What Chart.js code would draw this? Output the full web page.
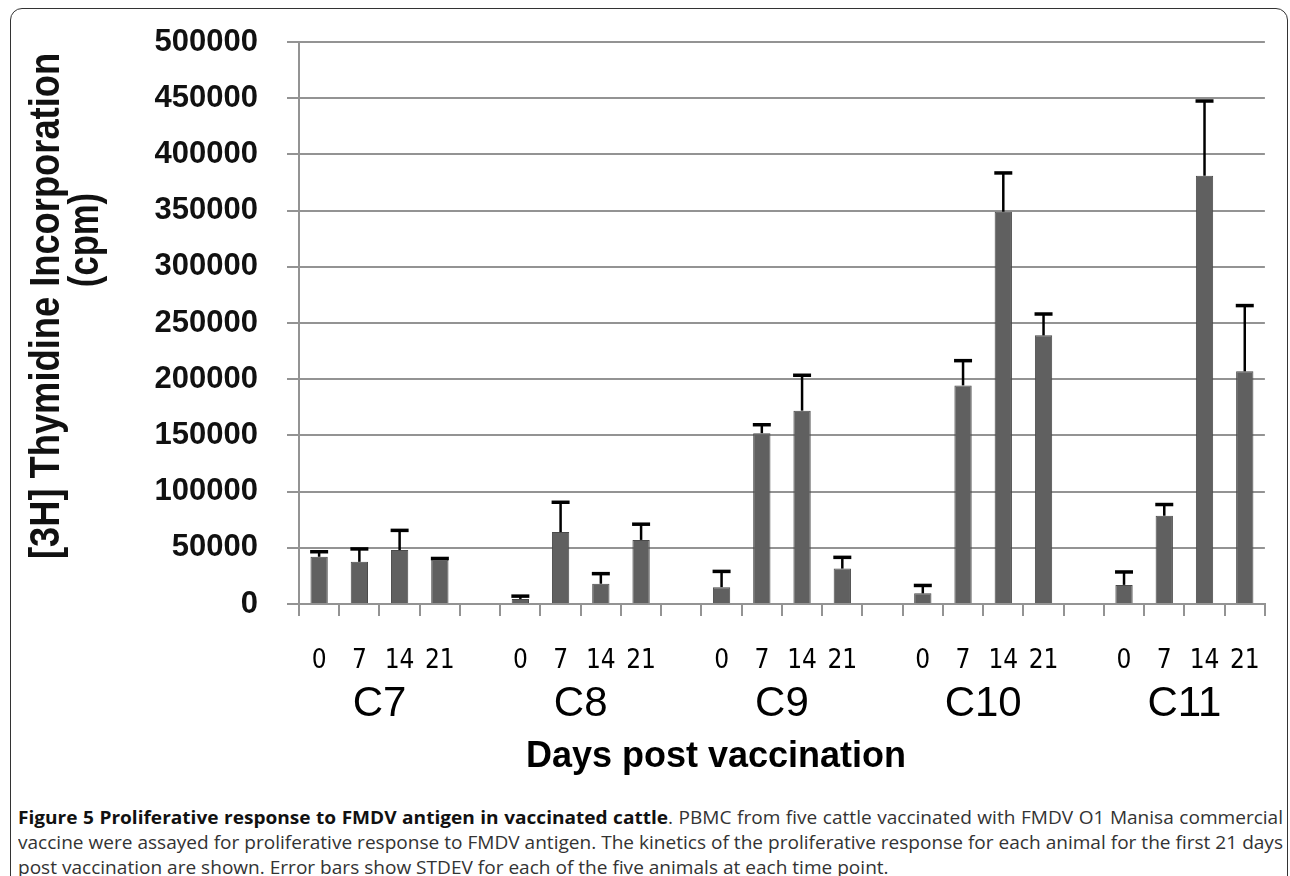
<!DOCTYPE html>
<html>
<head>
<meta charset="utf-8">
<script src="https://cdn.jsdelivr.net/npm/chart.js@4.4.1/dist/chart.umd.min.js"></script>
<style>
  html, body { margin: 0; padding: 0; background: #fff; }
  body { width: 1290px; height: 876px; position: relative; overflow: hidden; }
  #frame { position: absolute; left: 10px; top: 8px; width: 1278px; height: 880px;
           border: 1.5px solid #333; border-radius: 12px; box-sizing: border-box; }
  #c { position: absolute; left: 0; top: 0; }
  #caption { position: absolute; left: 18px; top: 805px; transform-origin: 0 0;
             font-family: "Open Sans", sans-serif; font-size: 18px; line-height: 25px; color: #333; }
  #caption div { white-space: nowrap; }
  #caption .j { text-align: justify; text-align-last: justify; }
  #caption b { color: #111; }
</style>
</head>
<body>
<div id="frame"></div>
<canvas id="c" width="1290" height="790"></canvas>
<div id="caption">
  <div class="j" id="l1"><b>Figure 5 Proliferative response to FMDV antigen in vaccinated cattle</b>. PBMC from five cattle vaccinated with FMDV O1 Manisa commercial</div>
  <div class="j">vaccine were assayed for proliferative response to FMDV antigen. The kinetics of the proliferative response for each animal for the first 21 days</div>
  <div>post vaccination are shown. Error bars show STDEV for each of the five animals at each time point.</div>
</div>
<script>
// animals and days
const groups = ['C7', 'C8', 'C9', 'C10', 'C11'];
const days = ['0', '7', '14', '21'];

// mean cpm per animal (day 0, 7, 14, 21)
const c7 = [42000, 37500, 48000, 39500];
const c8 = [4500, 64000, 18000, 57000];
const c9 = [15000, 152000, 172000, 31500];
const c10 = [9500, 194500, 349000, 239000];
const c11 = [17000, 78500, 381000, 207000];

// STDEV
const c7_sd = [4500, 11500, 17500, 1000];
const c8_sd = [2500, 26500, 9000, 14000];
const c9_sd = [14000, 7500, 31500, 10000];
const c10_sd = [7000, 22000, 34500, 19000];
const c11_sd = [11500, 10000, 66500, 58500];

const yTicks = [0, 50000, 100000, 150000, 200000, 250000, 300000, 350000, 400000, 450000, 500000];

// flatten into one category axis with an empty slot between animals
const means_by_group = [c7, c8, c9, c10, c11];
const sd_by_group = [c7_sd, c8_sd, c9_sd, c10_sd, c11_sd];
let labels = [];
let means = [];
let sds = [];
let groupStart = [];
groups.forEach((g, i) => {
    if (i > 0) { labels.push(''); means.push(null); sds.push(null); }
    groupStart.push(labels.length);
    days.forEach((d, j) => {
        labels.push(d);
        means.push(means_by_group[i][j]);
        sds.push(sd_by_group[i][j]);
    });
});

const errorBars = {
    id: 'errorBars',
    afterDatasetsDraw(chart) {
        const ctx = chart.ctx;
        const y = chart.scales.y;
        const meta = chart.getDatasetMeta(0);
        ctx.save();
        ctx.strokeStyle = '#000';
        meta.data.forEach((bar, i) => {
            if (means[i] == null) return;
            const top = y.getPixelForValue(means[i] + sds[i]);
            ctx.lineWidth = 2.5;
            ctx.beginPath();
            ctx.moveTo(bar.x, bar.y);
            ctx.lineTo(bar.x, top);
            ctx.stroke();
            ctx.lineWidth = 3.5;
            ctx.beginPath();
            ctx.moveTo(bar.x - 9, top);
            ctx.lineTo(bar.x + 9, top);
            ctx.stroke();
        });
        ctx.restore();
    }
};

// group names, axis titles (the original art is squeezed sideways, so the y title is stretched)
const axisText = {
    id: 'axisText',
    afterDraw(chart) {
        const ctx = chart.ctx;
        const x = chart.scales.x;
        const area = chart.chartArea;
        ctx.save();
        ctx.fillStyle = '#000';
        ctx.textAlign = 'center';
        ctx.textBaseline = 'middle';
        ctx.font = '42px "Liberation Sans", Arial, sans-serif';
        groups.forEach((g, i) => {
            const a = x.getPixelForValue(groupStart[i]);
            const b = x.getPixelForValue(groupStart[i] + days.length - 1);
            ctx.fillText(g, (a + b) / 2, x.top + 100);
        });
        ctx.font = 'bold 36px "Liberation Sans", Arial, sans-serif';
        ctx.fillText('Days post vaccination', 716, x.top + 153);

        ctx.fillStyle = '#111';
        ctx.font = 'bold 33px "Liberation Sans", Arial, sans-serif';
        const mid = (area.top + area.bottom) / 2;
        ctx.save();
        ctx.translate(47, mid - 17);
        ctx.rotate(-Math.PI / 2);
        ctx.scale(1.1, 1.3);
        ctx.fillText('[3H] Thymidine Incorporation', 0, 0);
        ctx.restore();
        ctx.save();
        ctx.translate(86, mid - 83);
        ctx.rotate(-Math.PI / 2);
        ctx.scale(1.05, 1.3);
        ctx.fillText('(cpm)', 0, 0);
        ctx.restore();
        ctx.restore();
    }
};

var ctx = document.getElementById('c').getContext('2d');
var chart = new Chart(ctx, {
    type: 'bar',
    data: {
        labels: labels,
        datasets: [{
            data: means,
            backgroundColor: '#606060',
            borderColor: '#4a4a4a',
            borderWidth: 1,
            barPercentage: 0.43,
            categoryPercentage: 1.0
        }]
    },
    options: {
        responsive: false,
        animation: false,
        layout: { padding: { left: 20, top: 42, right: 17, bottom: 0 } },
        plugins: { legend: { display: false }, tooltip: { enabled: false } },
        scales: {
            x: {
                offset: true,
                grid: { offset: true, drawOnChartArea: false, drawTicks: true, tickLength: 12, color: '#939393', lineWidth: 2 },
                border: { color: '#939393', width: 2 },
                ticks: {
                    autoSkip: false, maxRotation: 0, padding: 30, color: '#000',
                    font: { family: '"DejaVu Sans Condensed", "Liberation Sans Narrow", sans-serif', size: 26 }
                },
                afterFit: (s) => { s.height = 186; }
            },
            y: {
                min: 0, max: 500000,
                afterBuildTicks: (s) => { s.ticks = yTicks.map(v => ({ value: v })); },
                grid: { color: '#939393', lineWidth: 2, tickLength: 12 },
                border: { color: '#939393', width: 2 },
                ticks: {
                    padding: 29, color: '#111',
                    font: { family: '"Liberation Sans", Arial, sans-serif', size: 31, weight: 'bold' },
                    callback: (v) => String(v)
                },
                afterFit: (s) => { s.width = 279; s.paddingTop = 0; s.paddingBottom = 0; }
            }
        }
    },
    plugins: [errorBars, axisText]
});

// squeeze the caption to the width of the frame
const cap = document.getElementById('caption');
const w = document.getElementById('l1').scrollWidth;
cap.style.width = w + 'px';
cap.style.transform = 'scaleX(' + (1265 / w) + ')';
</script>
</body>
</html>
